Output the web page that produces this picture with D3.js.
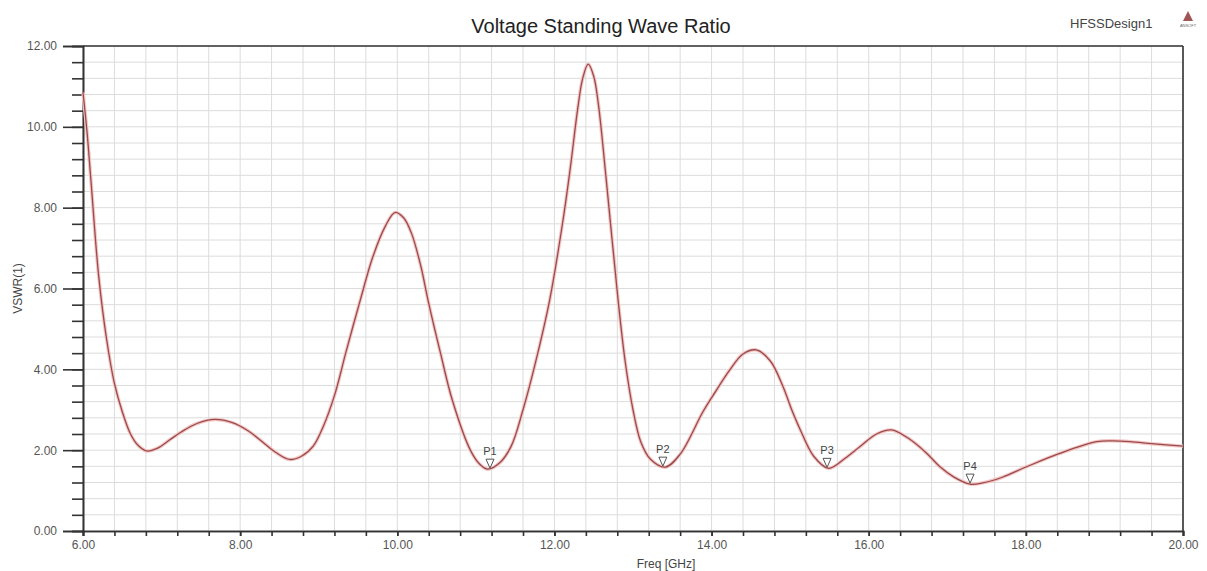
<!DOCTYPE html>
<html>
<head>
<meta charset="utf-8">
<script src="https://cdn.jsdelivr.net/npm/d3@7"></script>
<style>
  body { margin: 0; background: #fff; }
  svg { display: block; font-family: "Liberation Sans", Arial, sans-serif; }
</style>
</head>
<body>
<div class="chart"></div>
<script>
// values
let freq = [6.00, 6.05, 6.10, 6.20, 6.30, 6.40, 6.50, 6.60, 6.70, 6.81, 6.95, 7.10, 7.25, 7.45, 7.68,
  7.90, 8.10, 8.30, 8.45, 8.63, 8.78, 8.93, 9.05, 9.20, 9.35, 9.53, 9.69, 9.85, 9.97, 10.08,
  10.18, 10.30, 10.39, 10.55, 10.70, 10.93, 11.05, 11.15, 11.30, 11.45, 11.60, 11.75, 11.94, 12.11, 12.20,
  12.30, 12.36, 12.43, 12.50, 12.56, 12.66, 12.81, 12.90, 13.00, 13.10, 13.22, 13.41, 13.60, 13.89, 14.05, 14.23, 14.40,
  14.57, 14.75, 14.91, 15.02, 15.13, 15.30, 15.49, 15.70, 15.89, 16.10, 16.29, 16.50, 16.74, 16.90, 17.08,
  17.29, 17.45, 17.70, 18.01, 18.43, 18.90, 19.10, 19.33, 19.60, 19.79, 20.00];
let vswr = [10.85, 9.90, 8.70, 6.30, 4.75, 3.65, 2.95, 2.42, 2.12, 1.98, 2.05, 2.25, 2.45, 2.66, 2.76,
  2.68, 2.48, 2.18, 1.95, 1.77, 1.85, 2.10, 2.55, 3.35, 4.45, 5.72, 6.79, 7.55, 7.88, 7.75,
  7.37, 6.55, 5.72, 4.40, 3.24, 2.00, 1.65, 1.53, 1.68, 2.10, 3.00, 4.10, 5.72, 7.70, 8.95,
  10.50, 11.20, 11.55, 11.25, 10.55, 8.68, 5.72, 4.20, 3.00, 2.20, 1.78, 1.58, 1.90, 2.95, 3.45, 3.98, 4.38,
  4.48, 4.20, 3.57, 3.00, 2.50, 1.85, 1.55, 1.80, 2.09, 2.40, 2.50, 2.30, 1.92, 1.60, 1.34,
  1.16, 1.19, 1.33, 1.59, 1.92, 2.21, 2.23, 2.21, 2.16, 2.13, 2.10];

let markerNames = ['P1', 'P2', 'P3', 'P4'];
let markerFreq = [11.18, 13.38, 15.47, 17.29];
let markerVswr = [1.53, 1.58, 1.55, 1.16];

let xMajorTicks = [6, 8, 10, 12, 14, 16, 18, 20];
let yMajorTicks = [0, 2, 4, 6, 8, 10, 12];

let w = 1207;
let h = 571;

let x = d3.scaleLinear().domain([6, 20]).range([83, 1183]);
let y = d3.scaleLinear().domain([0, 12]).range([531, 46]);

// minor steps of 0.4 between the majors
let xMinorTicks = d3.range(0, 36).map(i => 6 + i * 0.4);
let yMinorTicks = d3.range(0, 31).map(i => i * 0.4);

let svg = d3.select('.chart').append('svg')
  .attr('width', w)
  .attr('height', h);

// grid
svg.append('g')
  .selectAll('line')
  .data(xMinorTicks)
  .enter().append('line')
  .attr('x1', d => x(d)).attr('x2', d => x(d))
  .attr('y1', y(0)).attr('y2', y(12))
  .attr('stroke', '#dcdcdc')
  .attr('stroke-width', 1);

svg.append('g')
  .selectAll('line')
  .data(yMinorTicks)
  .enter().append('line')
  .attr('x1', x(6)).attr('x2', x(20))
  .attr('y1', d => y(d)).attr('y2', d => y(d))
  .attr('stroke', '#dcdcdc')
  .attr('stroke-width', 1);

// axes
let yMinorAxis = svg.append('g')
  .attr('transform', `translate(${x(6)},0)`)
  .call(d3.axisLeft(y).tickValues(yMinorTicks).tickSize(11).tickFormat(''));

let yAxis = svg.append('g')
  .attr('transform', `translate(${x(6)},0)`)
  .call(d3.axisLeft(y).tickValues(yMajorTicks).tickSize(20).tickPadding(6).tickFormat(d3.format('.2f')));

let xMinorAxis = svg.append('g')
  .attr('transform', `translate(0,${y(0)})`)
  .call(d3.axisBottom(x).tickValues(xMinorTicks).tickSize(5).tickFormat(''));

let xAxis = svg.append('g')
  .attr('transform', `translate(0,${y(0)})`)
  .call(d3.axisBottom(x).tickValues(xMajorTicks).tickSize(5).tickPadding(4).tickFormat(d3.format('.2f')));

[yMinorAxis, yAxis, xMinorAxis, xAxis].forEach(a => {
  a.select('.domain').attr('stroke', '#333').attr('stroke-width', 1.6);
  a.selectAll('.tick line').attr('stroke', '#333').attr('stroke-width', 1.6);
  a.selectAll('.tick text')
    .attr('fill', '#555')
    .style('font-size', '12px')
    .style('font-family', '"Liberation Sans", Arial, sans-serif');
});

// top and right frame
svg.append('line')
  .attr('x1', x(6)).attr('x2', x(20))
  .attr('y1', y(12)).attr('y2', y(12))
  .attr('stroke', '#333').attr('stroke-width', 1.6);

svg.append('line')
  .attr('x1', x(20)).attr('x2', x(20))
  .attr('y1', y(12)).attr('y2', y(0))
  .attr('stroke', '#333').attr('stroke-width', 1.6);

// curve
let data = freq.map((f, i) => [f, vswr[i]]);

let line = d3.line()
  .x(d => x(d[0]))
  .y(d => y(d[1]))
  .curve(d3.curveCatmullRom.alpha(0.5));

svg.append('path')
  .attr('d', line(data))
  .attr('fill', 'none')
  .attr('stroke', '#f3c6c6')
  .attr('stroke-width', 3.5);

svg.append('path')
  .attr('d', line(data))
  .attr('fill', 'none')
  .attr('stroke', '#9b4a4a')
  .attr('stroke-width', 1.3);

// markers
let markers = svg.append('g')
  .selectAll('g')
  .data(markerNames.map((n, i) => ({ name: n, f: markerFreq[i], v: markerVswr[i] })))
  .enter().append('g')
  .attr('transform', d => `translate(${x(d.f)},${y(d.v)})`);

markers.append('path')
  .attr('d', 'M-4,-10L4,-10L0,-1Z')
  .attr('fill', '#fff')
  .attr('stroke', '#555')
  .attr('stroke-width', 1);

markers.append('text')
  .attr('x', 0)
  .attr('y', -14)
  .attr('text-anchor', 'middle')
  .attr('fill', '#444')
  .style('font-size', '11px')
  .text(d => d.name);

// titles
svg.append('text')
  .attr('x', 601)
  .attr('y', 33)
  .attr('text-anchor', 'middle')
  .attr('fill', '#222')
  .style('font-size', '20px')
  .text('Voltage Standing Wave Ratio');

svg.append('text')
  .attr('x', 1070)
  .attr('y', 28)
  .attr('fill', '#444')
  .style('font-size', '13px')
  .text('HFSSDesign1');

// ansoft logo
svg.append('path')
  .attr('d', 'M1188,11L1193,21L1183,21Z')
  .attr('fill', '#a05555');

svg.append('text')
  .attr('x', 1188)
  .attr('y', 27)
  .attr('text-anchor', 'middle')
  .attr('fill', '#666')
  .style('font-size', '4px')
  .text('ANSOFT');

svg.append('text')
  .attr('transform', `translate(22,${(y(0) + y(12)) / 2}) rotate(-90)`)
  .attr('text-anchor', 'middle')
  .attr('fill', '#444')
  .style('font-size', '12px')
  .text('VSWR(1)');

svg.append('text')
  .attr('x', (x(6) + x(20)) / 2 + 33)
  .attr('y', 568)
  .attr('text-anchor', 'middle')
  .attr('fill', '#444')
  .style('font-size', '12px')
  .text('Freq [GHz]');
</script>
</body>
</html>
